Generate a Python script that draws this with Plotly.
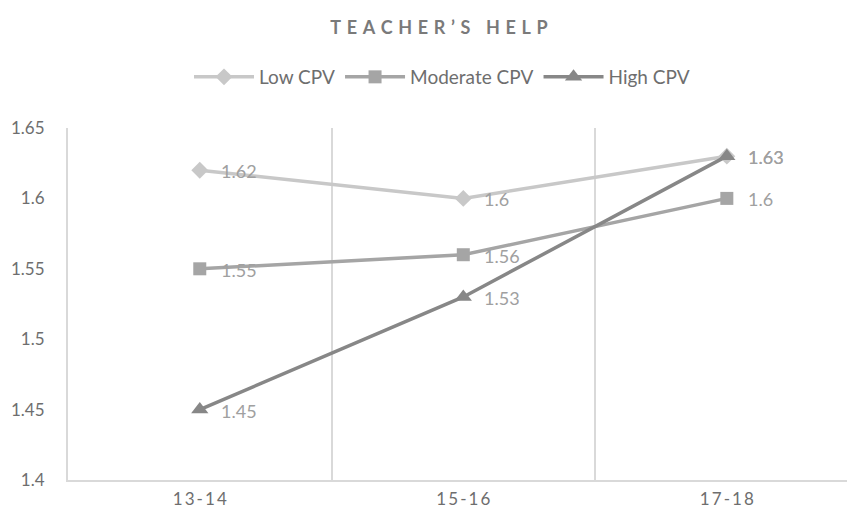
import plotly.graph_objects as go

categories = ["13-14", "15-16", "17-18"]
low_cpv = [1.62, 1.6, 1.63]
moderate_cpv = [1.55, 1.56, 1.6]
high_cpv = [1.45, 1.53, 1.63]
y_ticks = [1.4, 1.45, 1.5, 1.55, 1.6, 1.65]
y_tick_labels = ["1.4", "1.45", "1.5", "1.55", "1.6", "1.65"]

FONT = "Lato, Open Sans, sans-serif"
LABEL_COLOR = "#a0a0a0"
TICK_COLOR = "#6e6e6e"
THIN = "\u2009"
HAIR = "\u200a"


def spaced(s, gap):
    return gap.join(list(s))


series = [
    ("Low CPV", low_cpv, "#c8c8c8", "diamond", 13),
    ("Moderate CPV", moderate_cpv, "#a5a5a5", "square", 13),
    ("High CPV", high_cpv, "#878787", "triangle-up", 15),
]

fig = go.Figure()
for name, vals, color, sym, size in series:
    fig.add_trace(go.Scatter(
        x=categories, y=vals, name=name, mode="lines+markers",
        line=dict(color=color, width=3.5),
        marker=dict(symbol=sym, size=size, color=color),
        cliponaxis=False,
    ))
    for c, v in zip(categories, vals):
        fig.add_annotation(x=c, y=v, text=f"{v:g}", showarrow=False,
                           xanchor="left", yanchor="middle", xshift=19, yshift=-1,
                           font=dict(family=FONT, size=18, color=LABEL_COLOR))

fig.update_layout(
    width=847, height=515,
    paper_bgcolor="white", plot_bgcolor="white",
    margin=dict(l=68, r=0, t=128, b=35),
    font=dict(family=FONT, size=17, color=TICK_COLOR),
    title=dict(text="<b>" + spaced("TEACHER\u2019S HELP", THIN + THIN + HAIR) + "</b>",
               x=439 / 847, xanchor="center",
               y=1 - 28 / 515, yanchor="middle", yref="container",
               font=dict(family=FONT, size=18, color="#7a7a7a")),
    legend=dict(orientation="h", x=442 / 847, xanchor="center", xref="container",
                y=1 - 77 / 515, yanchor="middle", yref="container",
                font=dict(family=FONT, size=19, color=TICK_COLOR),
                itemwidth=60),
    showlegend=True,
)
fig.update_xaxes(
    type="category", range=[-0.5, 2.456], tickson="boundaries",
    tickvals=categories, ticktext=[spaced(c, THIN) for c in categories],
    showgrid=True, gridcolor="#d9d9d9", gridwidth=1.5,
    showline=True, linecolor="#d9d9d9", linewidth=2,
    ticks="", ticklabelstandoff=3, automargin=False,
    tickfont=dict(family=FONT, size=17, color=TICK_COLOR),
    zeroline=False,
)
fig.update_yaxes(
    range=[1.4, 1.65], tickvals=y_ticks, ticktext=y_tick_labels,
    showgrid=False, showline=True, linecolor="#d9d9d9", linewidth=2,
    ticks="", ticklabelstandoff=18, automargin=False,
    tickfont=dict(family=FONT, size=17, color=TICK_COLOR),
    zeroline=False,
)

fig.write_html(
    "out.html",
    config={"displayModeBar": False},
    post_script="document.body.style.margin='0';document.body.style.overflow='hidden';",
)
